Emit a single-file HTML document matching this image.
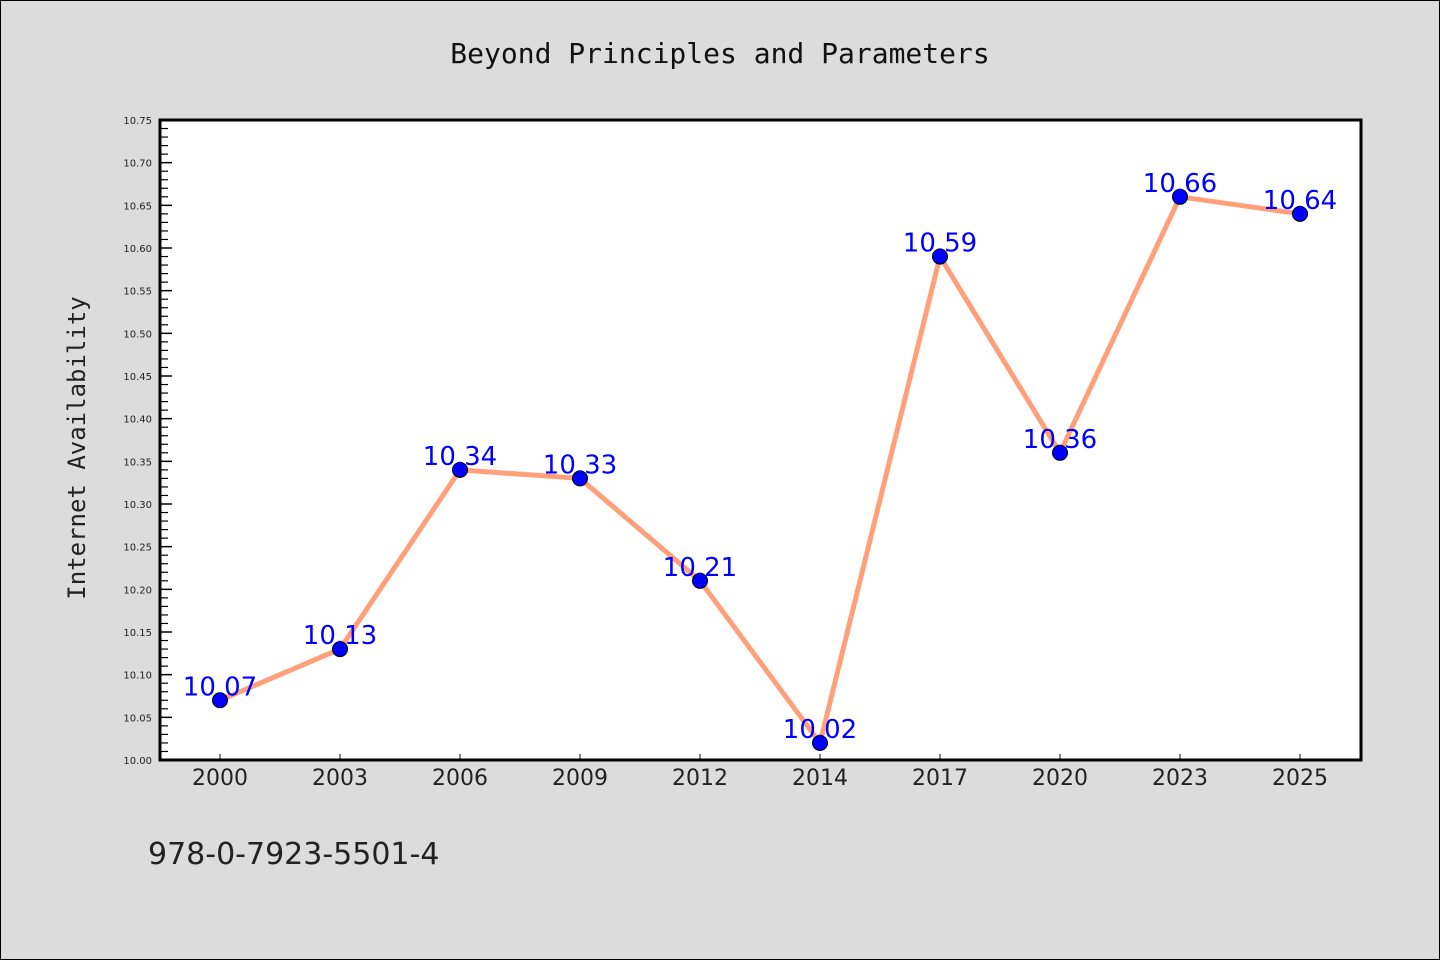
<!DOCTYPE html>
<html><head><meta charset="utf-8"><style>
html,body{margin:0;padding:0;background:#dcdcdc;}
svg{display:block;font-family:"DejaVu Sans","Liberation Sans",sans-serif;}
</style></head><body>
<svg id="chart" width="1440" height="960">
<rect x="0.5" y="0.5" width="1439" height="959" fill="#dcdcdc" stroke="#000"/>
<text x="720" y="63" text-anchor="middle" font-size="28" font-family="DejaVu Sans Mono, Liberation Mono, monospace" fill="#111">Beyond Principles and Parameters</text>
<rect x="160" y="120" width="1201" height="640" fill="#fff"/>
<g id="axes"></g>
<g id="series"></g>
<rect x="160" y="120" width="1201" height="640" fill="none" stroke="#000" stroke-width="3"/>
<text transform="translate(85,448) rotate(-90)" text-anchor="middle" font-size="24" font-family="DejaVu Sans Mono, Liberation Mono, monospace" fill="#222">Internet Availability</text>
<text x="148" y="864" font-size="30" fill="#222">978-0-7923-5501-4</text>
</svg>
<script>
const categories = ["2000","2003","2006","2009","2012","2014","2017","2020","2023","2025"];
const values = [10.07,10.13,10.34,10.33,10.21,10.02,10.59,10.36,10.66,10.64];
const yTicks = [10.00,10.05,10.10,10.15,10.20,10.25,10.30,10.35,10.40,10.45,10.50,10.55,10.60,10.65,10.70,10.75];
const NS="http://www.w3.org/2000/svg";
const L=160,R=1361,T=120,B=760,yMin=10.0,yMax=10.75;
function xs(i){return 220+i*(1300-220)/(categories.length-1);}
function ys(v){return B-(v-yMin)/(yMax-yMin)*(B-T);}
function mk(tag,attrs,parent){const e=document.createElementNS(NS,tag);for(const k in attrs)e.setAttribute(k,attrs[k]);parent.appendChild(e);return e;}
const ax=document.getElementById('axes'),se=document.getElementById('series');
yTicks.forEach((t,i)=>{
  const y=ys(t);
  const tk=mk('line',{x1:L,x2:L+12,y1:y,y2:y,stroke:'#000','stroke-width':1.5},ax);
  
  
  const tx=mk('text',{x:152,y:y+4,'text-anchor':'end','font-size':10,fill:'#222'},ax);
  tx.textContent=t.toFixed(2);
  
  
  if(i<yTicks.length-1){
    for(let m=1;m<5;m++){
      const ym=ys(t+(yTicks[i+1]-t)*m/5);
      const mn=mk('line',{x1:L,x2:L+8,y1:ym,y2:ym,stroke:'#000','stroke-width':1.2},ax);
      
      
    }
  }
});
categories.forEach((c,i)=>{
  const x=xs(i);
  const tk=mk('line',{x1:x,x2:x,y1:B,y2:B-6,stroke:'#000','stroke-width':1},ax);
  
  
  const tx=mk('text',{x:x,y:785,'text-anchor':'middle','font-size':22,fill:'#222'},ax);
  tx.textContent=c;
  
  
});
const pl=mk('polyline',{points:values.map((v,i)=>xs(i)+','+ys(v)).join(' '),fill:'none',stroke:'#ffa07a','stroke-width':5,'stroke-linejoin':'round'},se);


values.forEach((v,i)=>{
  const c=mk('circle',{cx:xs(i),cy:ys(v),r:7.5,fill:'#0000ff',stroke:'#000','stroke-width':1},se);
  
  
});
values.forEach((v,i)=>{
  const t=mk('text',{x:xs(i),y:ys(v)-5,'text-anchor':'middle','font-size':26,fill:'#0000ff'},se);
  t.textContent=v.toFixed(2);
  
  
});
</script>
</body></html>
